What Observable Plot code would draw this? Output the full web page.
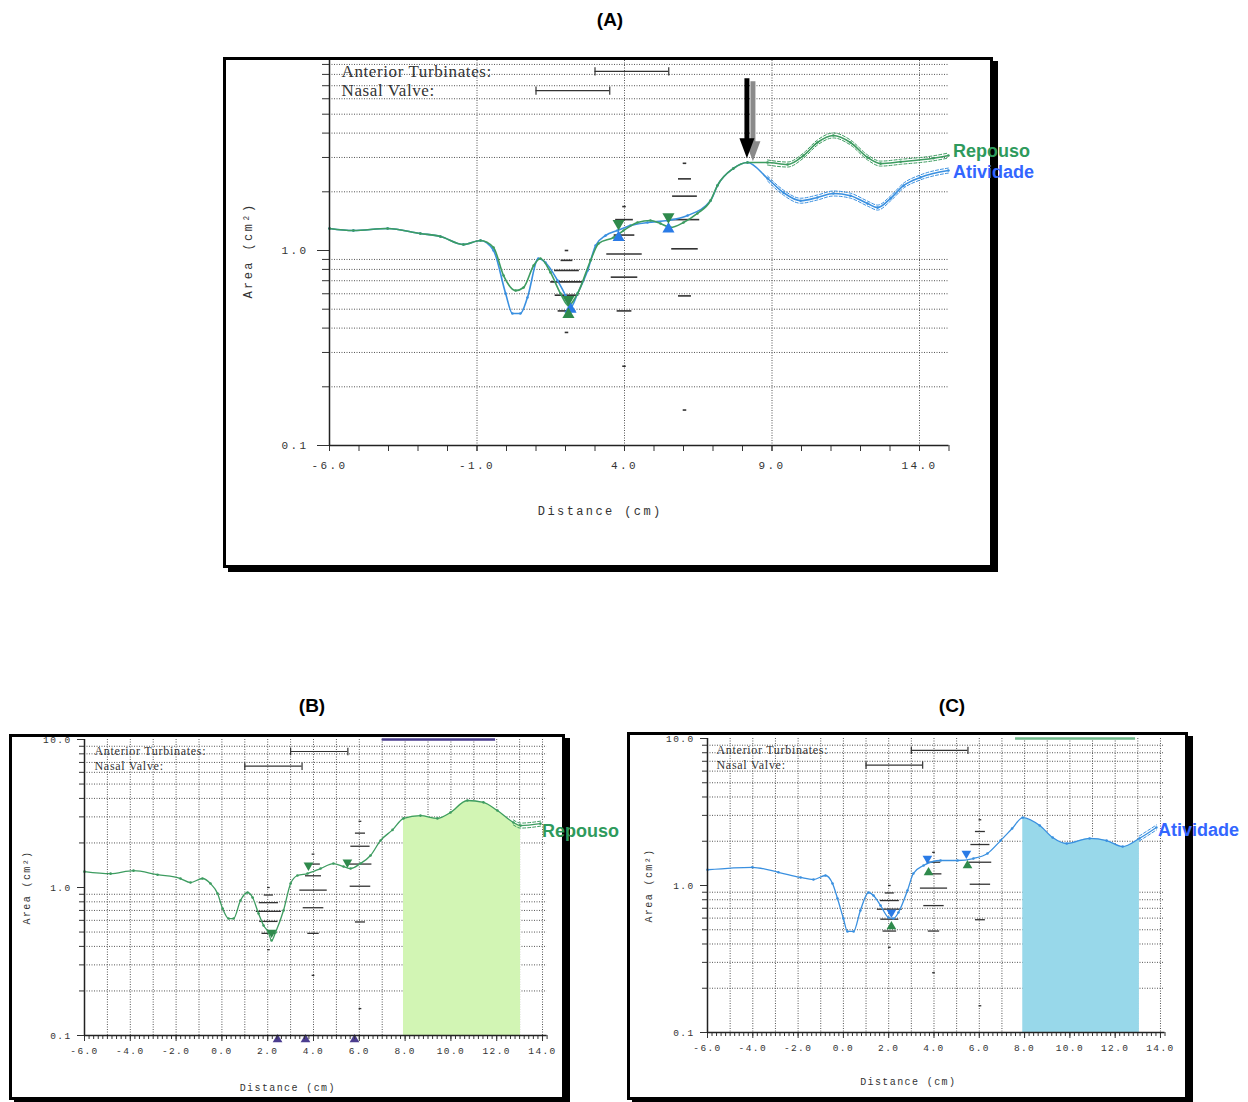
<!DOCTYPE html>
<html>
<head>
<meta charset="utf-8">
<script src="https://cdn.jsdelivr.net/npm/d3@7"></script>
<script src="https://cdn.jsdelivr.net/npm/@observablehq/plot@0.6"></script>
<style>
html,body{margin:0;padding:0;background:#fff;}
#page{position:relative;width:1248px;height:1102px;overflow:hidden;background:#fff;}
.title{position:absolute;font:bold 19px "Liberation Sans",Arial,sans-serif;color:#000;transform:translate(-50%,-50%);}
.clip{position:absolute;overflow:hidden;background:#fff;}
.clip > svg{position:absolute;left:0;}
.frame{position:absolute;box-sizing:border-box;border:3px solid #000;box-shadow:5px 4px 0 #000;pointer-events:none;}
.series{position:absolute;font:bold 18px "Liberation Sans",Arial,sans-serif;line-height:1;transform:translateY(-50%);white-space:nowrap;}
</style>
</head>
<body>
<div id="page">
  <div class="title" style="left:610px;top:20px">(A)</div>
  <div class="title" style="left:312px;top:706px">(B)</div>
  <div class="title" style="left:952px;top:706px">(C)</div>
  <div class="clip" id="clipA" style="left:223px;top:57px;width:770px;height:511px"></div>
  <div class="frame" style="left:223px;top:57px;width:770px;height:511px"></div>
  <div class="clip" id="clipB" style="left:9px;top:734px;width:556px;height:366px"></div>
  <div class="frame" style="left:9px;top:734px;width:556px;height:366px"></div>
  <div class="clip" id="clipC" style="left:627px;top:732px;width:561px;height:368px"></div>
  <div class="frame" style="left:627px;top:732px;width:561px;height:368px"></div>
  <div class="series" style="left:953px;top:151px;color:#2e9a5c">Repouso</div>
  <div class="series" style="left:953px;top:172px;color:#3366ff">Atividade</div>
  <div class="series" style="left:542px;top:831px;color:#2e9a5c">Repouso</div>
  <div class="series" style="left:1158px;top:830px;color:#3366ff">Atividade</div>
</div>
<script>
// ---------- axes / ticks ----------
const yDomain = [0.1, 10];
const yGrid = [0.2,0.3,0.4,0.5,0.6,0.7,0.8,0.9,2,3,4,5,6,7,8,9];
const yMajorA = [0.1, 1];
const yMajorBC = [0.1, 1, 10];
const xDomainA = [-6, 15];
const xDomainBC = [-6, 14.2];
const xTicksA = [-6, -1, 4, 9, 14];
const xGridA = [-1, 4, 9, 14];
const xTicksBC = [-6, -4, -2, 0, 2, 4, 6, 8, 10, 12, 14];
const xGridBC = [-5,-4,-3,-2,-1,0,1,2,3,4,5,6,7,8,9,10,11,12,13,14];

// ---------- anatomical landmarks (cm) ----------
const anatomyNames = ["Anterior Turbinates:", "Nasal Valve:"];
const anatomyStart = [3.0, 1.0];
const anatomyEnd = [5.5, 3.5];
const anatomyLevel = [8.3, 6.6];

// ---------- normative ranges (cm, cm², half-width cm) ----------
const normX = [2.05,2.05,2.05,2.05,2.05,2.05,2.05, 4,4,4,4,4,4,4, 6.05,6.05,6.05,6.05,6.05,6.05,6.05];
const normY = [1.0,0.89,0.79,0.69,0.59,0.49,0.38, 1.68,1.44,1.2,0.96,0.73,0.49,0.255, 2.8,2.33,1.9,1.44,1.02,0.585,0.152];
const normHalf = [0.06,0.2,0.42,0.55,0.4,0.3,0.06, 0.06,0.3,0.35,0.6,0.45,0.25,0.06, 0.06,0.22,0.42,0.5,0.45,0.22,0.06];

// ---------- Panel A : Repouso (green) and Atividade (blue) ----------
const repousoA_x = [-6.0,-5.19,-4.03,-2.92,-2.24,-1.46,-0.88,-0.44,-0.10,0.31,0.58,0.92,1.15,1.49,1.83,2.10,2.41,2.85,3.12,3.63,3.97,4.44,4.88,5.22,5.56,6.0,6.47,6.92,7.15,7.69,8.17,8.85,9.53,10.07,10.54,11.08,11.66,12.24,12.68,13.36,14.47,14.98];
const repousoA_y = [1.297,1.266,1.297,1.222,1.18,1.074,1.125,1.036,0.744,0.623,0.646,0.838,0.910,0.772,0.602,0.522,0.602,0.889,1.086,1.166,1.266,1.392,1.425,1.376,1.312,1.392,1.549,1.805,2.154,2.634,2.827,2.827,2.76,3.07,3.58,3.89,3.58,3.0,2.79,2.85,2.97,3.07];
const atividadeA_x = [-6.0,-5.19,-4.03,-2.92,-2.24,-1.46,-0.88,-0.44,-0.03,0.20,0.47,0.71,1.08,1.32,1.73,2.0,2.17,2.41,2.75,3.02,3.36,3.76,4.20,4.78,5.46,6.14,6.92,7.15,7.69,8.17,8.85,9.39,9.97,10.54,11.08,11.66,12.24,12.58,13.02,13.46,14.03,14.98];
const atividadeA_y = [1.297,1.266,1.297,1.222,1.18,1.074,1.125,1.0,0.602,0.475,0.475,0.574,0.910,0.868,0.702,0.588,0.510,0.602,0.789,1.061,1.194,1.266,1.343,1.392,1.425,1.512,1.805,2.154,2.634,2.827,2.34,1.98,1.80,1.87,1.96,1.91,1.74,1.66,1.85,2.15,2.37,2.57];
const markA_greenDown_x = [2.1, 3.8, 5.49];
const markA_greenDown_y = [0.56, 1.376, 1.49];
const markA_greenUp_x = [2.1];
const markA_greenUp_y = [0.47];
const markA_blueUp_x = [2.17, 3.8, 5.49];
const markA_blueUp_y = [0.50, 1.166, 1.29];
const arrowA_x = [8.15];
const arrowA_top = [7.6];
const arrowA_neck = [3.66];
const arrowA_head = [3.34];

// ---------- Panel B : Repouso ----------
const repousoB_x = [-6.0,-4.86,-3.86,-2.81,-1.81,-1.37,-0.85,-0.50,-0.19,0.03,0.29,0.51,0.81,1.12,1.34,1.60,1.82,2.03,2.17,2.34,2.69,3.0,3.30,3.74,4.31,4.87,5.31,5.62,6.05,6.49,6.93,7.45,7.93,8.67,9.41,9.98,10.72,11.42,12.03,12.73,13.04,13.91];
const repousoB_y = [1.28,1.24,1.30,1.22,1.15,1.08,1.15,1.064,0.911,0.721,0.617,0.617,0.817,0.925,0.856,0.667,0.554,0.497,0.438,0.497,0.699,1.064,1.205,1.243,1.343,1.452,1.386,1.343,1.452,1.645,2.08,2.45,2.93,3.06,2.93,3.21,3.87,3.76,3.31,2.75,2.62,2.70];
const markB_greenDown_x = [2.17, 3.78, 5.48];
const markB_greenDown_y = [0.497, 1.41, 1.48];
const markB_axis_x = [2.43, 3.65, 5.79];
const topLineB = [7.0, 11.95];

// ---------- Panel C : Atividade ----------
const atividadeC_x = [-6.0,-4.02,-2.87,-1.89,-1.32,-0.79,-0.48,-0.26,0.0,0.18,0.45,0.75,1.11,1.33,1.64,1.99,2.21,2.43,2.83,3.09,3.54,4.29,5.04,5.74,6.36,6.94,7.45,7.92,8.67,9.24,9.86,10.87,11.62,12.33,13.07,13.82];
const atividadeC_y = [1.28,1.33,1.23,1.134,1.098,1.17,1.032,0.816,0.596,0.487,0.487,0.676,0.896,0.855,0.731,0.606,0.596,0.655,0.925,1.207,1.368,1.479,1.479,1.526,1.651,2.02,2.44,2.90,2.56,2.12,1.93,2.09,2.02,1.84,2.09,2.48];
const markC_blueDown_x = [2.12, 3.71, 5.43];
const markC_blueDown_y = [0.655, 1.526, 1.651];
const markC_greenUp_x = [2.12, 3.76, 5.48];
const markC_greenUp_y = [0.526, 1.226, 1.368];
const topLineC = [7.6, 12.9];

// highlighted region (cm)
const regionStart = 7.9, regionEnd = 13.1;

// ---------- styles ----------
const GREEN = "#3d9c60", BLUE = "#3a90e0";
const GREEN_MARK = "#2f8a4c", BLUE_MARK = "#2a7be6", PURPLE = "#4b3d8f";
const mono = "'Liberation Mono','DejaVu Sans Mono',monospace";
const serif = "'Liberation Serif','DejaVu Serif',serif";

const zip2 = (xs, ys) => xs.map((x, i) => ({x, y: ys[i]}));
const anatomy = anatomyNames.map((name, i) => ({name, start: anatomyStart[i], end: anatomyEnd[i], y: anatomyLevel[i]}));
const norm = normX.map((x, i) => ({x, y: normY[i], w: normHalf[i]}));

const triDown = {draw(ctx, size){ const y = -Math.sqrt(size / (Math.sqrt(3) * 3)); ctx.moveTo(0, -2 * y); ctx.lineTo(-Math.sqrt(3) * y, y); ctx.lineTo(Math.sqrt(3) * y, y); ctx.closePath(); }};
const triUp = {draw(ctx, size){ const y = -Math.sqrt(size / (Math.sqrt(3) * 3)); ctx.moveTo(0, 2 * y); ctx.lineTo(-Math.sqrt(3) * y, -y); ctx.lineTo(Math.sqrt(3) * y, -y); ctx.closePath(); }};
const arrowHead = {draw(ctx, size){ const s = Math.sqrt(size); ctx.moveTo(0, s * 0.6); ctx.lineTo(-s * 0.45, -s * 0.6); ctx.lineTo(s * 0.45, -s * 0.6); ctx.closePath(); }};

function curveMarks(data, color, dashFrom, w) {
  const tail = data.filter(d => d.x >= dashFrom);
  return [
    Plot.line(tail, {x: "x", y: "y", stroke: color, strokeWidth: 1, strokeDasharray: "3,2", dy: -2.5, curve: "monotone-x"}),
    Plot.line(tail, {x: "x", y: "y", stroke: color, strokeWidth: 1, strokeDasharray: "3,2", dy: 2.5, curve: "monotone-x"}),
    Plot.line(data, {x: "x", y: "y", stroke: color, strokeWidth: w, curve: "monotone-x"}),
    Plot.dot(data, {x: "x", y: "y", r: 1.3, fill: color})
  ];
}

function makePanel(c) {
  const marks = [
    Plot.ruleY(yGrid, {stroke: "#555", strokeWidth: 1, strokeDasharray: "1,1.5"}),
    Plot.ruleX(c.gridX, {stroke: "#555", strokeWidth: 1, strokeDasharray: "1,1.5"})
  ];
  if (c.fill) marks.push(Plot.areaY(c.fill.data, {x: "x", y1: yDomain[0], y2: "y", fill: c.fill.color, curve: "monotone-x"}));
  if (c.topLine) marks.push(Plot.ruleY([yDomain[1]], {x1: c.topLine[0], x2: c.topLine[1], stroke: c.topLine[2], strokeWidth: 2.5}));
  marks.push(Plot.ruleY(norm, {y: "y", x1: d => d.x - d.w, x2: d => d.x + d.w, stroke: "#333", strokeWidth: c.normW}));
  // anatomical legend
  marks.push(Plot.ruleY(anatomy, {y: "y", x1: "start", x2: "end", stroke: "#333", strokeWidth: 1.2}));
  marks.push(Plot.link(anatomy, {x1: "start", x2: "start", y1: d => d.y * c.capF, y2: d => d.y / c.capF, stroke: "#333", strokeWidth: 1.2}));
  marks.push(Plot.link(anatomy, {x1: "end", x2: "end", y1: d => d.y * c.capF, y2: d => d.y / c.capF, stroke: "#333", strokeWidth: 1.2}));
  marks.push(Plot.text(anatomy, {y: "y", text: "name", frameAnchor: "left", dx: c.legendDx, textAnchor: "start", lineAnchor: "middle", fontFamily: serif, fontSize: c.legendSize, fill: "#333"}));
  for (const s of c.series) marks.push(...curveMarks(s.data, s.color, s.dashFrom, c.lineW));
  for (const m of c.markers) marks.push(Plot.dot(m.data, {x: "x", y: "y", symbol: m.symbol, r: c.markR, fill: m.color, dy: m.dy || 0}));
  if (c.extra) marks.push(...c.extra);
  // axes
  marks.push(Plot.axisY({ticks: yGrid, tickSize: c.yMinorSize, tickFormat: () => "", label: null}));
  marks.push(Plot.axisY({ticks: c.yMajor, tickSize: c.yMajorSize, tickPadding: c.yPad, tickFormat: d => d.toFixed(1), fontSize: c.tickFont, fontFamily: mono, label: null}));
  marks.push(Plot.axisX({ticks: c.xMinor, tickSize: c.xMinorSize, tickFormat: () => "", label: null}));
  marks.push(Plot.axisX({ticks: c.xTicks, tickSize: c.xMajorSize, tickPadding: c.xPad, tickFormat: d => d.toFixed(1), fontSize: c.tickFont, fontFamily: mono, label: null}));
  marks.push(Plot.ruleX([c.xDomain[0]], {stroke: "#222", strokeWidth: 1.5}));
  marks.push(Plot.ruleY([yDomain[0]], {stroke: "#222", strokeWidth: 1.5}));
  marks.push(Plot.text(["Distance (cm)"], {frameAnchor: "bottom", dy: c.xLabelDy, dx: c.xLabelDx, textAnchor: "middle", lineAnchor: "middle", fontFamily: mono, fontSize: c.labelFont, fill: "#333"}));
  marks.push(Plot.text(["Area (cm²)"], {frameAnchor: "left", dx: c.yLabelDx, rotate: -90, textAnchor: "middle", lineAnchor: "middle", fontFamily: mono, fontSize: c.labelFont, fill: "#333"}));

  const svg = Plot.plot({
    width: c.width, height: c.height,
    marginLeft: c.mL, marginRight: c.mR, marginTop: c.mT, marginBottom: c.mB,
    style: {background: "transparent", overflow: "visible", color: "#333"},
    x: {type: "linear", domain: c.xDomain, axis: null, label: null},
    y: {type: "log", domain: yDomain, axis: null, label: null},
    marks
  });
  // letter spacing of the monospaced (printer) texts and serif legend
  d3.select(svg).selectAll("g").each(function() {
    const f = this.getAttribute("font-family") || "";
    if (f.includes("Mono")) this.style.letterSpacing = c.monoSpacing + "px";
    else if (f.includes("Serif")) this.style.letterSpacing = c.serifSpacing + "px";
  });
  svg.style.top = c.top + "px";
  document.getElementById(c.clip).appendChild(svg);
}

// Panel A
const dataRepA = zip2(repousoA_x, repousoA_y);
const dataAtiA = zip2(atividadeA_x, atividadeA_y);
const arrowData = arrowA_x.map((x, i) => ({x, top: arrowA_top[i], neck: arrowA_neck[i], head: arrowA_head[i]}));
makePanel({
  clip: "clipA", width: 770, height: 518, top: -7,
  mL: 106, mR: 44.5, mT: 5, mB: 123,
  xDomain: xDomainA, xTicks: xTicksA, gridX: xGridA, xMinor: d3.range(-6, 15.01, 1),
  yMajor: yMajorA, yMinorSize: 7, yMajorSize: 12, yPad: 9,
  xMinorSize: 6, xMajorSize: 6, xPad: 10, tickFont: 11, labelFont: 12,
  monoSpacing: 2.4, serifSpacing: 0.6,
  xLabelDy: 66, xLabelDx: -39, yLabelDx: -81,
  legendDx: 12, legendSize: 17, capF: 1.05, normW: 1.6, lineW: 1.6, markR: 4.5,
  series: [
    {data: dataAtiA, color: BLUE, dashFrom: 8.3},
    {data: dataRepA, color: GREEN, dashFrom: 8.3}
  ],
  markers: [
    {data: zip2(markA_blueUp_x, markA_blueUp_y), symbol: triUp, color: BLUE_MARK},
    {data: zip2(markA_greenDown_x, markA_greenDown_y), symbol: triDown, color: GREEN_MARK},
    {data: zip2(markA_greenUp_x, markA_greenUp_y), symbol: triUp, color: GREEN_MARK}
  ],
  extra: [
    Plot.ruleX(arrowData, {x: "x", y1: "top", y2: "neck", stroke: "#8a8a8a", strokeWidth: 5, dx: 6, dy: 3}),
    Plot.dot(arrowData, {x: "x", y: "head", symbol: arrowHead, r: 9.4, fill: "#8a8a8a", dx: 6, dy: 3}),
    Plot.ruleX(arrowData, {x: "x", y1: "top", y2: "neck", stroke: "#000", strokeWidth: 5}),
    Plot.dot(arrowData, {x: "x", y: "head", symbol: arrowHead, r: 9.4, fill: "#000"})
  ]
});

// Panel B
const dataRepB = zip2(repousoB_x, repousoB_y);
makePanel({
  clip: "clipB", width: 556, height: 375, top: -9,
  mL: 75, mR: 18.4, mT: 14, mB: 65,
  xDomain: xDomainBC, xTicks: xTicksBC, gridX: xGridBC, xMinor: d3.range(-6, 14.21, 0.2),
  yMajor: yMajorBC, yMinorSize: 5, yMajorSize: 7, yPad: 6,
  xMinorSize: 4, xMajorSize: 6, xPad: 6, tickFont: 9.5, labelFont: 10,
  monoSpacing: 1.4, serifSpacing: 0.7,
  xLabelDy: 52, xLabelDx: -28, yLabelDx: -58,
  legendDx: 10, legendSize: 12, capF: 1.06, normW: 1.3, lineW: 1.3, markR: 3.6,
  fill: {data: dataRepB.filter(d => d.x >= regionStart && d.x <= regionEnd), color: "#d2f5b4"},
  topLine: [topLineB[0], topLineB[1], PURPLE],
  series: [{data: dataRepB, color: GREEN, dashFrom: 12.7}],
  markers: [
    {data: zip2(markB_greenDown_x, markB_greenDown_y), symbol: triDown, color: GREEN_MARK},
    {data: markB_axis_x.map(x => ({x, y: yDomain[0]})), symbol: triUp, color: PURPLE, dy: 4}
  ]
});

// Panel C
const dataAtiC = zip2(atividadeC_x, atividadeC_y);
makePanel({
  clip: "clipC", width: 561, height: 375, top: -7,
  mL: 80, mR: 23.5, mT: 13, mB: 68,
  xDomain: xDomainBC, xTicks: xTicksBC, gridX: xGridBC, xMinor: d3.range(-6, 14.21, 0.2),
  yMajor: yMajorBC, yMinorSize: 5, yMajorSize: 7, yPad: 6,
  xMinorSize: 4, xMajorSize: 6, xPad: 6, tickFont: 9.5, labelFont: 10,
  monoSpacing: 1.4, serifSpacing: 0.7,
  xLabelDy: 49, xLabelDx: -28, yLabelDx: -59,
  legendDx: 9, legendSize: 12, capF: 1.06, normW: 1.3, lineW: 1.3, markR: 3.6,
  fill: {data: dataAtiC.filter(d => d.x >= regionStart && d.x <= regionEnd), color: "#98d8ea"},
  topLine: [topLineC[0], topLineC[1], "#6fb98a"],
  series: [{data: dataAtiC, color: BLUE, dashFrom: 13}],
  markers: [
    {data: zip2(markC_blueDown_x, markC_blueDown_y), symbol: triDown, color: BLUE_MARK},
    {data: zip2(markC_greenUp_x, markC_greenUp_y), symbol: triUp, color: GREEN_MARK}
  ]
});
</script>
</body>
</html>
